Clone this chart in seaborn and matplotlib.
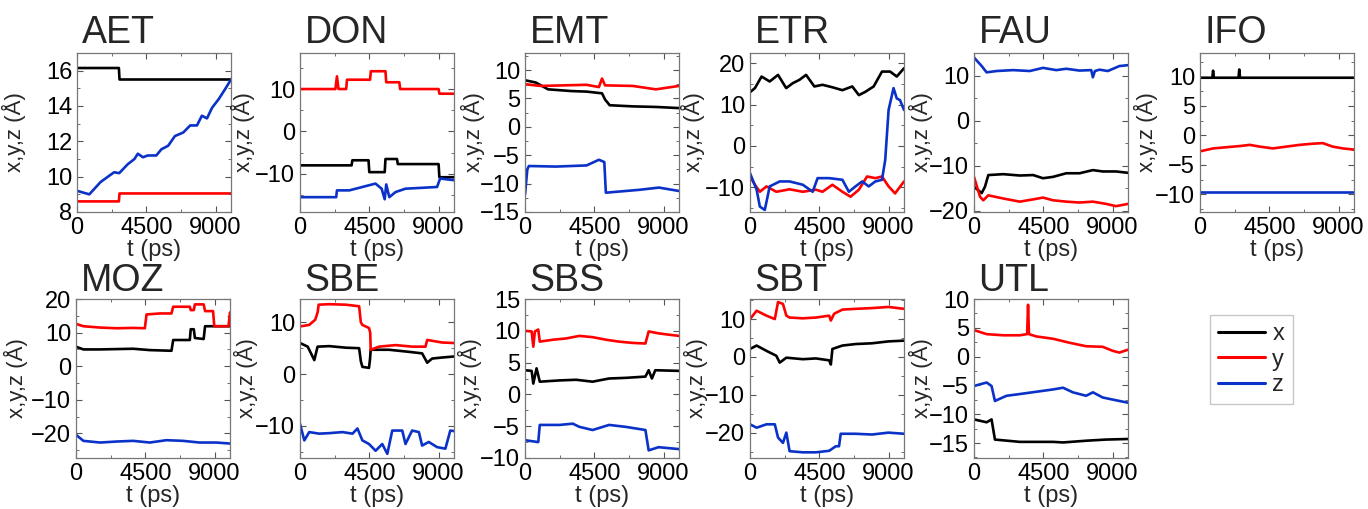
import numpy as np
import pandas as pd
import matplotlib
matplotlib.use("Agg")
import matplotlib.pyplot as plt
from matplotlib.ticker import MultipleLocator
import seaborn as sns

# ---------------- data (t in ps, coordinates in Angstrom) ----------------
AET_x_t = [0, 2720, 2760, 10000]
AET_x_v = [16.15, 16.15, 15.5, 15.5]
AET_y_t = [0, 2720, 2760, 10000]
AET_y_v = [8.6, 8.6, 9.05, 9.05]
AET_z_t = [0, 800, 1535, 2410, 2740, 3290, 3730, 3950, 4280, 4600, 5150, 5480, 5920, 6360, 6900, 7350, 7790, 8110, 8440, 8770, 9210, 9650, 10000]
AET_z_v = [9.2, 9.0, 9.7, 10.25, 10.2, 10.7, 11.0, 11.3, 11.1, 11.2, 11.2, 11.55, 11.75, 12.3, 12.5, 12.9, 12.9, 13.45, 13.3, 13.9, 14.4, 15.0, 15.5]

DON_x_t = [0, 3350, 3400, 4450, 4500, 5500, 5550, 6300, 6350, 9000, 9050, 10000]
DON_x_v = [-8, -8, -6.8, -6.8, -9.6, -9.6, -6.5, -6.5, -7.7, -7.7, -10.8, -10.8]
DON_y_t = [0, 2300, 2400, 2500, 3000, 3050, 4550, 4600, 5550, 5600, 6450, 6500, 9000, 9050, 10000]
DON_y_v = [10, 10, 13, 10, 10, 12.2, 12.2, 14.2, 14.2, 11.6, 11.6, 10, 10, 8.9, 8.9]
DON_z_t = [0, 2350, 2400, 3200, 4050, 4900, 5300, 5500, 5600, 5800, 6200, 6850, 7900, 8900, 9100, 10000]
DON_z_v = [-15.5, -15.5, -13.9, -13.9, -13.1, -12.3, -13.5, -16, -12.5, -15.5, -14.3, -13.5, -13.3, -13.1, -11.1, -11.5]

EMT_x_t = [0, 700, 1500, 3000, 4000, 5000, 5200, 5500, 7000, 8500, 10000]
EMT_x_v = [8.2, 7.8, 6.6, 6.3, 6.2, 5.9, 4.8, 3.8, 3.6, 3.5, 3.3]
EMT_y_t = [0, 1000, 2500, 4000, 4800, 5000, 5200, 7000, 8500, 10000]
EMT_y_v = [7.5, 7.2, 7.3, 7.4, 7.0, 8.5, 7.3, 7.2, 6.6, 7.2]
EMT_z_t = [0, 150, 250, 2000, 4000, 4800, 5150, 5250, 7400, 8700, 10000]
EMT_z_v = [-12, -7.5, -6.9, -7.0, -6.8, -5.8, -6.2, -11.6, -11.1, -10.7, -11.3]

ETR_x_t = [0, 320, 750, 1280, 1820, 2350, 2780, 3210, 3640, 4180, 4710, 5350, 6000, 6640, 7070, 7490, 8030, 8570, 9100, 9530, 10000]
ETR_x_v = [13, 14, 16.8, 15.6, 17.2, 14.0, 15.2, 16, 17.2, 14.4, 14.8, 14.2, 13.5, 14.4, 12.3, 13.1, 14.4, 18.0, 18, 16.8, 18.8]
ETR_y_t = [0, 320, 640, 1070, 1710, 2570, 3430, 4280, 4710, 5350, 6000, 6530, 7070, 7600, 8140, 8570, 9000, 9420, 10000]
ETR_y_v = [-7.4, -9.4, -11.1, -9.8, -11.1, -10.5, -11.1, -10.6, -11.1, -9.4, -11.1, -12.3, -10.6, -7.4, -7.8, -7.4, -9.8, -11.5, -8.6]
ETR_z_t = [0, 430, 640, 960, 1280, 1930, 2570, 3430, 4070, 4390, 5140, 6000, 6420, 6850, 7280, 7710, 8140, 8570, 8780, 9000, 9320, 9530, 9740, 10000]
ETR_z_v = [-6.6, -10.6, -14.7, -15.5, -9.8, -8.6, -8.6, -9.4, -11.1, -7.8, -7.8, -8.2, -11.1, -9.8, -8.6, -9.8, -8.6, -8.2, -3.4, 8.7, 14, 11.5, 11.1, 8.7]

FAU_x_t = [0, 500, 710, 930, 1900, 2970, 3840, 4480, 5130, 5990, 6850, 7720, 8360, 9220, 10000]
FAU_x_v = [-14.7, -16.1, -14.7, -12.1, -11.9, -12.2, -12.1, -12.8, -12.5, -11.7, -11.7, -11.0, -11.3, -11.3, -11.6]
FAU_y_t = [0, 390, 600, 930, 1900, 2970, 3840, 4480, 5130, 5990, 6850, 7720, 8580, 9220, 10000]
FAU_y_v = [-12.5, -16.9, -17.7, -16.6, -17.3, -18.0, -17.5, -17.1, -17.7, -18.0, -18.2, -18.0, -18.5, -19.0, -18.5]
FAU_z_t = [0, 500, 820, 1470, 2540, 3620, 4480, 5340, 5990, 6850, 7610, 7720, 7850, 8150, 8690, 9440, 10000]
FAU_z_v = [14, 12.1, 10.7, 11, 11.2, 11, 11.7, 11.2, 11.5, 11.1, 11.2, 9.6, 11.0, 11.3, 11, 12.1, 12.3]

IFO_x_t = [0, 800, 850, 900, 2500, 2550, 2600, 10000]
IFO_x_v = [9.8, 9.8, 11, 9.8, 9.8, 11.2, 9.8, 9.8]
IFO_y_t = [0, 860, 1720, 2590, 3230, 3880, 4740, 5600, 6470, 7330, 7970, 8620, 9270, 10000]
IFO_y_v = [-2.7, -2.2, -2.0, -1.8, -1.6, -1.9, -2.2, -1.9, -1.6, -1.4, -1.3, -1.9, -2.2, -2.4]
IFO_z_t = [0, 10000]
IFO_z_v = [-9.6, -9.6]

MOZ_x_t = [0, 480, 1560, 3710, 4790, 6200, 6310, 7390, 7450, 7650, 7720, 8290, 8380, 10000]
MOZ_x_v = [5.8, 5.0, 5.0, 5.2, 4.8, 4.6, 7.8, 7.8, 11.0, 11.0, 8.4, 8.1, 11.9, 11.9]
MOZ_y_t = [0, 480, 1560, 2640, 3710, 4470, 4580, 5440, 6200, 6310, 7390, 7450, 7650, 7720, 8290, 8380, 8900, 8980, 9900, 10000]
MOZ_y_v = [12.6, 11.9, 11.5, 11.3, 11.4, 11.3, 15.4, 15.7, 15.7, 17.7, 17.7, 16.7, 16.7, 18.4, 18.4, 16.4, 16.4, 11.9, 11.9, 16]
MOZ_z_t = [0, 480, 1560, 2640, 3710, 4790, 5870, 6950, 8030, 9110, 10000]
MOZ_z_v = [-20.4, -22.2, -22.7, -22.4, -22.2, -22.7, -22.0, -22.2, -22.7, -22.7, -23.0]

SBE_x_t = [0, 500, 930, 1140, 1900, 2970, 3840, 3950, 4050, 4480, 4550, 4590, 5780, 7070, 7930, 8260, 8580, 9220, 10000]
SBE_x_v = [6.0, 5.3, 2.7, 5.3, 5.4, 5.1, 5.0, 2.5, 1.4, 1.2, 3.0, 4.7, 4.7, 4.3, 4.0, 2.2, 3.0, 3.2, 3.4]
SBE_y_t = [0, 600, 990, 1150, 1210, 1900, 2970, 3840, 3950, 4050, 4480, 4560, 4590, 5130, 6210, 7280, 8150, 8260, 9220, 10000]
SBE_y_v = [9.2, 9.5, 10.5, 12, 13.4, 13.5, 13.4, 13.1, 10, 9.5, 8.9, 8.0, 4.7, 5.3, 5.6, 5.3, 5.3, 6.6, 6.1, 6.0]
SBE_z_t = [0, 280, 600, 1250, 1900, 2760, 3410, 3730, 4050, 4480, 4910, 5340, 5670, 5990, 6640, 6850, 7280, 7720, 7930, 8360, 8900, 9440, 9760, 10000]
SBE_z_v = [-9.6, -12.8, -11.2, -11.5, -11.4, -11.2, -11.5, -10.5, -12.8, -13.5, -14.8, -13.5, -15.4, -10.9, -10.9, -13.5, -10.9, -11.2, -13.8, -13.1, -14.1, -14.4, -10.9, -11.0]

SBS_x_t = [0, 430, 540, 750, 960, 2250, 3320, 4390, 5460, 6530, 7820, 8030, 8240, 8460, 10000]
SBS_x_v = [3.8, 3.7, 1.7, 4.1, 2.0, 2.2, 2.3, 2.0, 2.5, 2.6, 2.8, 3.8, 2.5, 3.8, 3.7]
SBS_y_t = [0, 430, 540, 640, 860, 960, 1820, 2680, 3530, 4390, 5250, 6100, 6960, 7820, 8030, 8670, 9310, 10000]
SBS_y_v = [10.0, 9.9, 7.5, 9.9, 10.2, 8.3, 8.6, 8.8, 9.2, 9.0, 8.6, 8.3, 8.1, 8.0, 9.9, 9.6, 9.4, 9.2]
SBS_z_t = [0, 860, 960, 2250, 3100, 3530, 4390, 5460, 6530, 7820, 8030, 8670, 10000]
SBS_z_v = [-7.2, -7.5, -4.8, -4.8, -4.6, -5.1, -5.6, -4.8, -5.1, -5.6, -8.8, -8.3, -8.6]

SBT_x_t = [0, 430, 1070, 1710, 1930, 2360, 3430, 4280, 5140, 5250, 5350, 6000, 6850, 7920, 8990, 10000]
SBT_x_v = [2.1, 3.0, 1.6, 0.3, -1.5, -0.2, -0.6, -0.4, -0.9, -2.0, 2.1, 3.0, 3.4, 3.6, 4.1, 4.3]
SBT_y_t = [0, 430, 1070, 1610, 1820, 2140, 2360, 2570, 3430, 4280, 5140, 5250, 5460, 6000, 6850, 7920, 8990, 10000]
SBT_y_v = [10.0, 12.2, 10.9, 10.0, 14.5, 14.0, 10.9, 10.4, 10.2, 10.4, 10.9, 9.6, 11.4, 12.5, 12.7, 12.9, 13.2, 12.7]
SBT_z_t = [0, 430, 1070, 1610, 1820, 2140, 2360, 2570, 3430, 4280, 5140, 5570, 5780, 5890, 6850, 7920, 8990, 10000]
SBT_z_v = [-17.8, -18.7, -17.8, -17.8, -21.3, -22.7, -20.0, -24.9, -25.2, -25.2, -24.8, -23.6, -23.6, -20.3, -20.3, -20.5, -20.0, -20.3]

UTL_x_t = [0, 820, 1140, 1360, 2970, 5130, 5780, 7280, 8580, 10000]
UTL_x_v = [-10.9, -11.4, -10.9, -14.4, -14.8, -14.8, -14.9, -14.6, -14.4, -14.3]
UTL_y_t = [0, 820, 1900, 2970, 3450, 3510, 3570, 4050, 5130, 6210, 7280, 8360, 9010, 9440, 10000]
UTL_y_v = [4.6, 3.9, 3.7, 3.7, 3.9, 9.0, 3.9, 3.5, 3.1, 2.4, 1.8, 1.7, 1.0, 0.7, 1.2]
UTL_z_t = [0, 820, 1140, 1360, 2110, 2970, 4050, 5130, 5780, 6420, 7280, 7720, 8360, 9440, 10000]
UTL_z_v = [-5.1, -4.5, -5.1, -7.7, -6.8, -6.5, -6.1, -5.7, -5.4, -6.2, -6.8, -6.2, -7.1, -7.7, -8.0]

NAMES = ["AET", "DON", "EMT", "ETR", "FAU", "IFO", "MOZ", "SBE", "SBS", "SBT", "UTL"]
YLIMS = [(8, 17), (-19, 18.5), (-15, 13), (-16, 22.5), (-20.3, 15), (-13, 14),
         (-27.3, 20), (-16.2, 14.5), (-10, 15), (-26.7, 15.3), (-17.6, 10)]
YTICKS = [[8, 10, 12, 14, 16], [-10, 0, 10], [-15, -10, -5, 0, 5, 10], [-10, 0, 10, 20],
          [-20, -10, 0, 10], [-10, -5, 0, 5, 10], [-20, -10, 0, 10, 20], [-10, 0, 10],
          [-10, -5, 0, 5, 10, 15], [-20, -10, 0, 10], [-15, -10, -5, 0, 5, 10]]
XTICKS = [0, 4500, 9000]
COORDS = ["x", "y", "z"]
COLORS = {"x": "#000000", "y": "#ff0000", "z": "#0a32c8"}

DATA = {
    "AET": [(AET_x_t, AET_x_v), (AET_y_t, AET_y_v), (AET_z_t, AET_z_v)],
    "DON": [(DON_x_t, DON_x_v), (DON_y_t, DON_y_v), (DON_z_t, DON_z_v)],
    "EMT": [(EMT_x_t, EMT_x_v), (EMT_y_t, EMT_y_v), (EMT_z_t, EMT_z_v)],
    "ETR": [(ETR_x_t, ETR_x_v), (ETR_y_t, ETR_y_v), (ETR_z_t, ETR_z_v)],
    "FAU": [(FAU_x_t, FAU_x_v), (FAU_y_t, FAU_y_v), (FAU_z_t, FAU_z_v)],
    "IFO": [(IFO_x_t, IFO_x_v), (IFO_y_t, IFO_y_v), (IFO_z_t, IFO_z_v)],
    "MOZ": [(MOZ_x_t, MOZ_x_v), (MOZ_y_t, MOZ_y_v), (MOZ_z_t, MOZ_z_v)],
    "SBE": [(SBE_x_t, SBE_x_v), (SBE_y_t, SBE_y_v), (SBE_z_t, SBE_z_v)],
    "SBS": [(SBS_x_t, SBS_x_v), (SBS_y_t, SBS_y_v), (SBS_z_t, SBS_z_v)],
    "SBT": [(SBT_x_t, SBT_x_v), (SBT_y_t, SBT_y_v), (SBT_z_t, SBT_z_v)],
    "UTL": [(UTL_x_t, UTL_x_v), (UTL_y_t, UTL_y_v), (UTL_z_t, UTL_z_v)],
}

# ---------------- layout (pixels of a 1368x509 canvas) ----------------
W, H = 1368, 509
LEFTS = [77, 300, 525, 750, 974, 1200, 76, 300, 525, 750, 974]
TOPS = [53] * 6 + [299] * 5
AX_W, AX_H = 154, 159
YLAB_X = [-0.33, -0.29, -0.26, -0.29, -0.265, -0.27, -0.31, -0.27, -0.28, -0.27, -0.265]
TITLE_PAD = [7] * 6 + [1.5] * 5

sns.set_style("ticks")
plt.rcParams["font.family"] = ["Liberation Sans", "DejaVu Sans"]

fig = plt.figure(figsize=(W / 100, H / 100), dpi=100)

handles, labels = None, None
for i, name in enumerate(NAMES):
    rows = []
    for c, (ts, vs) in zip(COORDS, DATA[name]):
        for t, v in zip(ts, vs):
            rows.append({"t": t, "val": v, "coord": c})
    df = pd.DataFrame(rows)
    ax = fig.add_axes([LEFTS[i] / W, 1 - (TOPS[i] + AX_H) / H, AX_W / W, AX_H / H])
    sns.lineplot(data=df, x="t", y="val", hue="coord", hue_order=COORDS,
                 palette=COLORS, estimator=None, linewidth=1.9, ax=ax, legend=True)
    if handles is None:
        handles, labels = ax.get_legend_handles_labels()
    ax.get_legend().remove()
    ax.set_xlim(0, 10000)
    ax.set_ylim(*YLIMS[i])
    ax.set_xticks(XTICKS)
    ax.set_yticks(YTICKS[i])
    ax.xaxis.set_minor_locator(MultipleLocator(2250))
    yt = YTICKS[i]
    ax.yaxis.set_minor_locator(MultipleLocator((yt[1] - yt[0]) / 2))
    ax.tick_params(which="both", direction="in", top=True, right=True,
                   colors="#555555", labelcolor="black", labelsize=17)
    ax.tick_params(which="major", length=4, width=0.8)
    ax.tick_params(which="minor", length=2.5, width=0.6)
    for s in ax.spines.values():
        s.set_color("#777777")
        s.set_linewidth(0.9)
    ax.set_xlabel("t (ps)", fontsize=17, labelpad=0)
    ax.set_ylabel("x,y,z (Å)", fontsize=16)
    ax.yaxis.set_label_coords(YLAB_X[i], 0.5)
    ax.set_title(name, loc="left", fontsize=27, pad=TITLE_PAD[i], x=0.03)

for h in handles:
    h.set_linewidth(2.2)
leg = fig.legend(handles, labels, loc="upper left",
                 bbox_to_anchor=(1198 / W, 1 - 303 / H), fontsize=17,
                 frameon=True, fancybox=False, edgecolor="#bbbbbb",
                 handlelength=2.0, labelspacing=0.15, borderpad=0.35,
                 handletextpad=0.3)
leg.get_frame().set_linewidth(1.0)

fig.savefig("out.png", dpi=100, facecolor="white")
